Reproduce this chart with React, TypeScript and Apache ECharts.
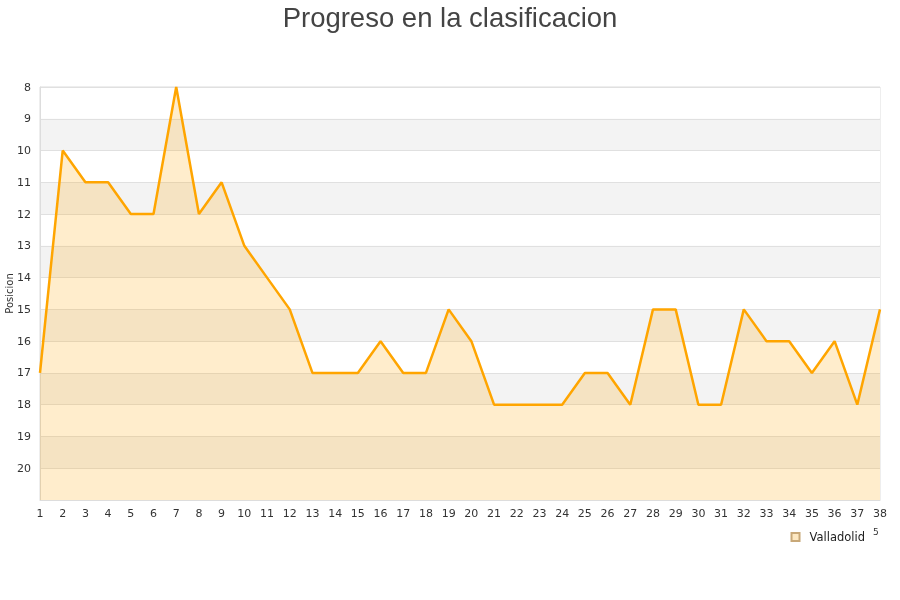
import React, { useEffect, useRef } from "react";
import * as echarts from "echarts";

const jornadas = Array.from({ length: 38 }, (_, i) => String(i + 1));
const posiciones = [17, 10, 11, 11, 12, 12, 8, 12, 11, 13, 14, 15, 17, 17, 17, 16, 17, 17, 15, 16, 18, 18, 18, 18, 17, 17, 18, 15, 15, 18, 18, 15, 16, 16, 17, 16, 18, 15];
const equipo = "Valladolid";
const titulo = "Progreso en la clasificacion";

export default function App() {
  const ref = useRef<HTMLDivElement>(null);
  useEffect(() => {
    const chart = echarts.init(ref.current!, null, { renderer: "svg" });
    chart.setOption({
      animation: false,
      title: {
        text: titulo,
        left: "center",
        top: -2,
        textStyle: { fontFamily: "Liberation Sans", fontSize: 27.5, fontWeight: "normal", color: "#444" },
      },
      legend: {
        data: [{ name: equipo, icon: "rect" }],
        right: 30,
        top: 526,
        itemWidth: 8,
        itemHeight: 8,
        itemGap: 10,
        textStyle: { fontFamily: "DejaVu Sans", fontSize: 11.5, color: "#222", padding: [0, 0, 0, 5] },
      },
      grid: {
        left: 40,
        right: 20,
        top: 87,
        bottom: 100,
        containLabel: false,
        outerBoundsMode: "none",
        show: true,
        borderColor: "#ddd",
        borderWidth: 1,
      },
      xAxis: {
        type: "category",
        data: jornadas,
        boundaryGap: false,
        axisLine: { lineStyle: { color: "#ddd" } },
        axisTick: { show: false },
        axisLabel: { interval: 0, fontFamily: "DejaVu Sans", fontSize: 11, color: "#333", margin: 8 },
        splitLine: { show: false },
      },
      yAxis: {
        type: "value",
        inverse: true,
        min: 8,
        max: 21,
        interval: 1,
        name: "Posicion",
        nameLocation: "middle",
        nameGap: 26,
        nameMoveOverlap: false,
        nameTextStyle: { fontFamily: "DejaVu Sans", fontSize: 10, color: "#333" },
        axisLine: { show: true, lineStyle: { color: "#ddd" } },
        axisTick: { show: false },
        axisLabel: {
          fontFamily: "DejaVu Sans",
          fontSize: 11,
          color: "#333",
          margin: 9,
          formatter: (v: number) => (v === 21 ? "" : String(v)),
        },
        splitLine: { show: true, lineStyle: { color: "#e0e0e0" } },
        splitArea: { show: true, areaStyle: { color: ["#ffffff", "#f3f3f3"] } },
      },
      series: [
        {
          name: equipo,
          type: "line",
          data: posiciones,
          symbol: "none",
          lineStyle: { color: "#ffa500", width: 2.5 },
          itemStyle: { color: "#fde8c2", borderColor: "#c8a878", borderWidth: 1 },
          areaStyle: { color: "rgba(255,165,0,0.2)", opacity: 1, origin: "end" },
        },
      ],
      graphic: [
        {
          type: "text",
          left: 873,
          top: 527,
          style: { text: "5", fontFamily: "DejaVu Sans", fontSize: 9, fill: "#333" },
        },
      ],
    });
    return () => chart.dispose();
  }, []);
  return <div ref={ref} style={{ position: "fixed", left: 0, top: 0, width: 900, height: 600 }} />;
}
